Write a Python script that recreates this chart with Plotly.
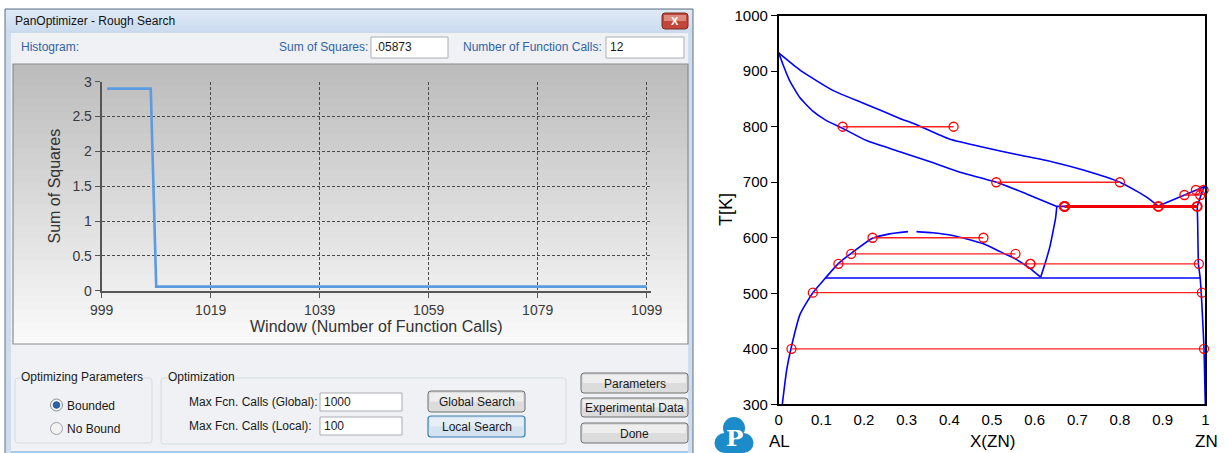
import plotly.graph_objects as go

W, H = 1225, 453
FONT = "Liberation Sans, Arial, sans-serif"

# ---------------- Left chart (PanOptimizer histogram) data ----------------
calls = [1000, 1008, 1009, 1099]
sos = [2.9, 2.9, 0.05873, 0.05873]
hist_xticks = [999, 1019, 1039, 1059, 1079, 1099]
hist_yticks = [0, 0.5, 1, 1.5, 2, 2.5, 3]

# ---------------- Right chart (Al-Zn phase diagram) data ----------------
liq_al_x = [0, 0.05, 0.128, 0.2, 0.284, 0.319, 0.40, 0.48, 0.558, 0.64, 0.714, 0.80, 0.839, 0.865, 0.89]
liq_al_T = [933, 902, 865, 842, 815, 805, 778, 763, 750, 737, 722, 700, 684, 672, 657]

sol_al_x = [0, 0.01, 0.025, 0.05, 0.08, 0.11, 0.15, 0.206, 0.284, 0.3625, 0.425, 0.511, 0.581, 0.652]
sol_al_T = [933, 912, 884, 852, 828, 812, 797, 775, 755, 735, 718, 700, 679, 656.5]

gap_left_x = [0.0085, 0.0187, 0.029, 0.05, 0.08, 0.109, 0.139, 0.17, 0.22, 0.26, 0.303]
gap_left_T = [300, 362, 401, 462, 501, 527, 553, 572, 599, 607, 611]
gap_right_x = [0.323, 0.36, 0.4015, 0.45, 0.48, 0.519, 0.5555, 0.589, 0.614]
gap_right_T = [611, 609, 605, 596, 589, 575, 561.5, 545, 529]

fcc2_x = [0.614, 0.625, 0.636, 0.644, 0.649, 0.652]
fcc2_T = [529, 555, 585, 615, 635, 656.5]

eut_x = [0.652, 0.981]
eut_T = [656.5, 656.5]
eutd_x = [0.109, 0.988]
eutd_T = [527.5, 527.5]

zn_solv_x = [0.981, 0.982, 0.984, 0.988, 0.992, 0.997, 1.0]
zn_solv_T = [656.5, 632, 553, 527.5, 480, 400, 300]
zn_sol_x = [0.981, 0.995, 1.0]
zn_sol_T = [656.5, 688, 692.7]
zn_liq_x = [0.89, 0.95, 1.0]
zn_liq_T = [657, 676, 692.7]

tie_T = [800, 700, 600, 571, 553, 553, 501, 400, 677, 686]
tie_xa = [0.15, 0.51, 0.22, 0.17, 0.14, 0.59, 0.08, 0.03, 0.951, 0.978]
tie_xb = [0.41, 0.80, 0.48, 0.555, 0.59, 0.985, 0.992, 0.997, 0.988, 0.996]

inv_x = [0.67, 0.89, 0.981, 0.67]
inv_T = [656.5, 656.5, 656.5, 656.5]

pd_xticks = [0, 0.1, 0.2, 0.3, 0.4, 0.5, 0.6, 0.7, 0.8, 0.9, 1]
pd_yticks = [300, 400, 500, 600, 700, 800, 900, 1000]

# ---------------- helpers (pixel -> paper) ----------------
def X(px):
    return px / W


def Y(py):
    return 1 - py / H


shapes = []
annotations = []


def rect(x0, y0, x1, y1, fill, line=None, lw=1, layer="below"):
    shapes.append(dict(type="rect", xref="paper", yref="paper",
                       x0=X(x0), x1=X(x1), y0=Y(y1), y1=Y(y0),
                       fillcolor=fill, layer=layer,
                       line=dict(color=line if line else "rgba(0,0,0,0)", width=lw if line else 0)))


def rrect(x0, y0, x1, y1, r, fill, line, lw=1, layer="below"):
    p = (f"M{X(x0 + r)},{Y(y0)} L{X(x1 - r)},{Y(y0)} Q{X(x1)},{Y(y0)} {X(x1)},{Y(y0 + r)} "
         f"L{X(x1)},{Y(y1 - r)} Q{X(x1)},{Y(y1)} {X(x1 - r)},{Y(y1)} "
         f"L{X(x0 + r)},{Y(y1)} Q{X(x0)},{Y(y1)} {X(x0)},{Y(y1 - r)} "
         f"L{X(x0)},{Y(y0 + r)} Q{X(x0)},{Y(y0)} {X(x0 + r)},{Y(y0)} Z")
    shapes.append(dict(type="path", xref="paper", yref="paper", path=p,
                       fillcolor=fill, layer=layer,
                       line=dict(color=line if line else "rgba(0,0,0,0)", width=lw if line else 0)))


def circ(cx, cy, r, fill, line=None, lw=1, layer="below"):
    shapes.append(dict(type="circle", xref="paper", yref="paper",
                       x0=X(cx - r), x1=X(cx + r), y0=Y(cy + r), y1=Y(cy - r),
                       fillcolor=fill, layer=layer,
                       line=dict(color=line if line else "rgba(0,0,0,0)", width=lw if line else 0)))


def text(px, py, s, size=12, color="#1a1a1a", xanchor="left", angle=0, family=FONT, bg=None):
    a = dict(x=X(px), y=Y(py), xref="paper", yref="paper", text=s, showarrow=False,
             xanchor=xanchor, yanchor="middle", textangle=angle,
             font=dict(family=family, size=size, color=color), borderpad=0)
    if bg:
        a["bgcolor"] = bg
    annotations.append(a)


def gradient(x0, y0, x1, y1, c0, c1, n):
    h = (y1 - y0) / n
    for i in range(n):
        t = i / (n - 1)
        c = tuple(round(c0[k] + (c1[k] - c0[k]) * t) for k in range(3))
        rect(x0, y0 + i * h, x1, min(y1, y0 + (i + 1) * h + 0.6), f"rgb{c}")


def button(x0, y0, x1, y1, label, focused=False):
    if focused:
        rrect(x0, y0, x1, y1, 3, "#d3e3f1", "#3c7fb1", 1.2)
        rect(x0 + 2, y0 + 2, x1 - 2, (y0 + y1) / 2, "#e6eff7")
    else:
        rrect(x0, y0, x1, y1, 3, "#dcdcdc", "#707070", 1)
        rect(x0 + 2, y0 + 2, x1 - 2, (y0 + y1) / 2, "#eeeeee")
    text((x0 + x1) / 2, (y0 + y1) / 2 + 0.5, label, 12, "#1a1a1a", "center")


def textbox(x0, y0, x1, y1, val):
    rect(x0, y0, x1, y1, "white", "#abadb3", 1)
    text(x0 + 3, (y0 + y1) / 2, val, 12, "#1a1a1a")


# ---------------- dialog chrome ----------------
rect(5, 9, 693, 470, "#cfdeee", "#5f7085", 1)
gradient(6, 10, 692, 33, (222, 233, 246), (203, 219, 238), 8)
rect(11, 33, 688, 451, "#eff1f4")
rect(11, 451, 688, 460, "#a9cbe9")
text(14, 21, "PanOptimizer - Rough Search", 12, "#111111")
rrect(662, 13, 688, 29, 3, "#c2473a", "#7a2c24", 1)
rect(664, 15, 686, 21, "#dc8b7e")
text(675, 21, "<b>X</b>", 11, "white", "center")

text(20, 47, "Histogram:", 12, "#2f63a8")
text(369, 47, "Sum of Squares:", 12, "#2f63a8", "right")
textbox(371, 37, 448, 58, ".05873")
text(603, 47, "Number of Function Calls:", 12, "#2f63a8", "right")
textbox(606, 37, 684, 58, "12")

# chart panel with vertical gradient
gradient(13, 64, 688, 344, (188, 188, 188), (250, 250, 250), 40)
rect(13, 64, 688, 344, "rgba(0,0,0,0)", "#8c8c8c", 1.2)

# group boxes
rrect(15, 378, 152, 443, 3, "rgba(0,0,0,0)", "#d3dbe2", 1)
text(20, 377, "Optimizing Parameters", 12, "#1a1a1a", bg="#eff1f4")
rrect(161, 378, 566, 444, 3, "rgba(0,0,0,0)", "#d3dbe2", 1)
text(167, 377, "Optimization", 12, "#1a1a1a", bg="#eff1f4")

circ(56.5, 405, 6, "#f2f2f2", "#8e8f8f", 1)
circ(56.5, 405, 3.3, "#2b63ab", "#1b4c86", 0.8)
text(66, 406, "Bounded", 12)
circ(56.5, 428.5, 6, "#f2f2f2", "#a0a0a0", 1)
text(66, 429, "No Bound", 12)

text(188, 402, "Max Fcn. Calls (Global):", 12)
textbox(320, 393, 402, 411, "1000")
text(188, 426, "Max Fcn. Calls (Local):", 12)
textbox(320, 417, 402, 435, "100")

button(428, 391, 525, 412, "Global Search")
button(428, 416, 525, 437, "Local Search", focused=True)
button(581, 373, 688, 393, "Parameters")
button(581, 398, 688, 417, "Experimental Data")
button(581, 423, 688, 443, "Done")

# left chart axis titles
text(53.5, 186, "Sum of Squares", 16, "#333333", "center", angle=-90)
text(376, 326, "Window (Number of Function Calls)", 16, "#333333", "center")

# ---------------- phase diagram labels + logo ----------------
text(726, 210, "T[K]", 18, "black", "center", angle=-90)
text(992.5, 441, "X(ZN)", 17, "black", "center")
text(779, 441, "AL", 17, "black", "center")
text(1206, 441, "ZN", 17, "black", "center")

LOGO = "#1c8bc9"
circ(734, 428, 11, LOGO)
circ(724.5, 443, 10, LOGO)
circ(743.5, 443, 10, LOGO)
circ(734, 450, 9, LOGO)
text(734, 437, "<b>P</b>", 23, "white", "center", family="DejaVu Serif, Liberation Serif, serif")

# ---------------- figure ----------------
fig = go.Figure()

fig.add_trace(go.Scatter(x=calls, y=sos, mode="lines",
                         line=dict(color="#5a9be2", width=2.6),
                         xaxis="x", yaxis="y", showlegend=False, hoverinfo="skip"))


def blue(xs, ts, smooth=True):
    ln = dict(color="#0000ff", width=1.6)
    if smooth:
        ln.update(shape="spline", smoothing=0.5)
    fig.add_trace(go.Scatter(x=xs, y=ts, mode="lines", line=ln,
                             xaxis="x2", yaxis="y2", showlegend=False, hoverinfo="skip"))


blue(liq_al_x, liq_al_T)
blue(sol_al_x, sol_al_T)
blue(gap_left_x, gap_left_T)
blue(gap_right_x, gap_right_T)
blue(fcc2_x, fcc2_T)
blue(eut_x, eut_T, False)
blue(eutd_x, eutd_T, False)
blue(zn_solv_x, zn_solv_T)
blue(zn_sol_x, zn_sol_T, False)
blue(zn_liq_x, zn_liq_T, False)

for t, xa, xb in zip(tie_T, tie_xa, tie_xb):
    fig.add_trace(go.Scatter(x=[xa, xb], y=[t, t], mode="lines+markers",
                             line=dict(color="#ff2020", width=1.3),
                             marker=dict(symbol="circle-open", size=9, color="#ff0000", line=dict(width=1.3)),
                             cliponaxis=False, xaxis="x2", yaxis="y2",
                             showlegend=False, hoverinfo="skip"))

fig.add_trace(go.Scatter(x=inv_x, y=inv_T, mode="lines+markers",
                         line=dict(color="#ee0000", width=3),
                         marker=dict(symbol="circle-open", size=9, color="#ff0000", line=dict(width=2)),
                         cliponaxis=False, xaxis="x2", yaxis="y2",
                         showlegend=False, hoverinfo="skip"))

AX1 = dict(showline=True, linecolor="#555555", linewidth=2, ticks="outside", ticklen=5,
           tickcolor="#555555", tickwidth=1, showgrid=True, gridcolor="#4a4a4a", gridwidth=1,
           griddash="3px,2px", zeroline=False, automargin=False,
           tickfont=dict(family=FONT, size=14, color="#3a3a3a"))

fig.update_layout(
    width=W, height=H, margin=dict(l=0, r=0, t=0, b=0, autoexpand=False),
    paper_bgcolor="white", plot_bgcolor="rgba(0,0,0,0)",
    xaxis=dict(domain=[X(101.7), X(650.5)], range=[999, 1099.7], tickvals=hist_xticks,
               anchor="y", **AX1),
    yaxis=dict(domain=[Y(290.7), Y(81.7)], range=[0, 3], tickvals=hist_yticks,
               anchor="x", **AX1),
    xaxis2=dict(domain=[X(778.7), X(1205.3)], range=[0, 1], tickvals=pd_xticks,
                anchor="y2", showline=True, mirror=True, linecolor="black", linewidth=1.6,
                ticks="", ticklabelstandoff=1, showgrid=False, zeroline=False, automargin=False,
                tickfont=dict(family=FONT, size=15, color="black")),
    yaxis2=dict(domain=[Y(404.3), Y(15.7)], range=[300, 1000], tickvals=pd_yticks,
                anchor="x2", showline=True, mirror=True, linecolor="black", linewidth=1.6,
                ticks="outside", ticklen=6, tickcolor="black", showgrid=False, zeroline=False,
                automargin=False, tickfont=dict(family=FONT, size=15, color="black")),
    shapes=shapes, annotations=annotations,
)

fig.write_html("out.html", config={"displayModeBar": False},
               post_script="document.body.style.margin='0';document.body.style.padding='0';"
                           "document.body.style.overflow='hidden';")
